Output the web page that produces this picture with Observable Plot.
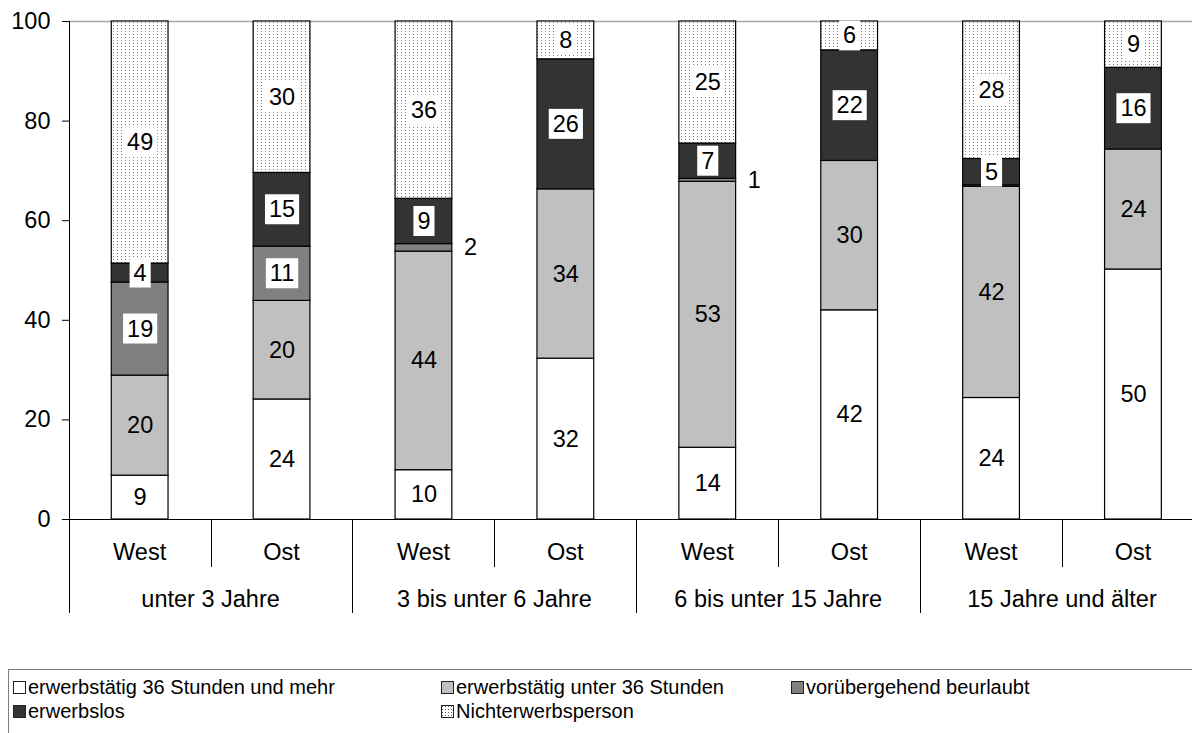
<!DOCTYPE html>
<html><head><meta charset="utf-8">
<script src="https://cdn.jsdelivr.net/npm/d3@7"></script>
<script src="https://cdn.jsdelivr.net/npm/@observablehq/plot@0.6"></script>
<style>
body{margin:0;background:#fff;font-family:"Liberation Sans",Arial,sans-serif;}
#chart{position:absolute;left:0;top:0;}
#legend{position:absolute;left:8px;top:669px;width:1200px;height:80px;border:1px solid #808080;box-sizing:border-box;}
.item{position:absolute;font-size:20px;line-height:24px;display:flex;align-items:center;white-space:nowrap;color:#000;}
.item svg{margin-right:2px;}
</style></head><body>
<div id="chart"></div><div id="legend"></div>
<script>
// ---- data ----
const groups = ["unter 3 Jahre", "3 bis unter 6 Jahre", "6 bis unter 15 Jahre", "15 Jahre und älter"];
const regions = ["West", "Ost"];
const categories = ["erwerbstätig 36 Stunden und mehr", "erwerbstätig unter 36 Stunden", "vorübergehend beurlaubt", "erwerbslos", "Nichterwerbsperson"];
const colors = ["#ffffff", "#c0c0c0", "#808080", "#333333", "url(#dots)"];
// one value per bar: West, Ost for each age group
const vollzeit    = [8.8, 24.1,  9.9, 32.3, 14.4, 42.0, 24.4, 50.2];
const teilzeit    = [20.1, 19.8, 43.9, 34.0, 53.4, 30.0, 42.4, 24.1];
const beurlaubt   = [18.7, 10.9,  1.5,  0.0,  0.6,  0.0,  0.3,  0.0];
const erwerbslos  = [3.8, 14.8,  9.1, 26.1,  7.1, 22.2,  5.3, 16.4];
const nichterwerb = [48.6, 30.4, 35.6,  7.6, 24.5,  5.8, 27.6,  9.3];
const yTicks = [0, 20, 40, 60, 80, 100];

// ---- table ----
const keys = groups.flatMap(g => regions.map(r => g + "|" + r));
const seriesValues = [vollzeit, teilzeit, beurlaubt, erwerbslos, nichterwerb];
const table = [];
keys.forEach((k, i) => seriesValues.forEach((vals, c) =>
  table.push({key: k, cat: categories[c], ci: c, value: vals[i], label: Math.round(vals[i])})));

const FS = 23.5;
const stackOpts = {x: "key", y: "value", z: "cat"};

function groupAxis(index, scales) {
  const x = scales.x, y = scales.y;
  const step = x.step(), bw = x.bandwidth();
  const left = k => x(k) + bw / 2 - step / 2;
  const crisp = v => Math.round(v) + 0.5;
  const y0 = y(0);
  const g = d3.create("svg:g");
  const lines = g.append("g").attr("stroke", "black").attr("stroke-width", 1);
  // y axis line (extends down as first separator)
  lines.append("line").attr("x1", crisp(left(keys[0]))).attr("x2", crisp(left(keys[0])))
    .attr("y1", y(100)).attr("y2", y0 + 94);
  groups.forEach((grp, gi) => {
    const kW = grp + "|West", kO = grp + "|Ost";
    const xe = gi < groups.length - 1 ? left(groups[gi + 1] + "|West") : left(kO) + step;
    lines.append("line").attr("x1", crisp(xe)).attr("x2", crisp(xe)).attr("y1", y0).attr("y2", y0 + 94);
    lines.append("line").attr("x1", crisp(left(kO))).attr("x2", crisp(left(kO))).attr("y1", y0).attr("y2", y0 + 48);
    regions.forEach(r => {
      const k = grp + "|" + r;
      g.append("text").attr("x", x(k) + bw / 2).attr("y", y0 + 33)
        .attr("text-anchor", "middle").attr("dominant-baseline", "central")
        .attr("font-size", FS).attr("fill", "black").text(r);
    });
    g.append("text").attr("x", left(kW) + step).attr("y", y0 + 80)
      .attr("text-anchor", "middle").attr("dominant-baseline", "central")
      .attr("font-size", FS).attr("fill", "black").text(grp);
  });
  return g.node();
}

const svg = Plot.plot({
  width: 1192,
  height: 640,
  marginTop: 21,
  marginBottom: 121,
  marginLeft: 69,
  marginRight: 0,
  style: {fontFamily: '"Liberation Sans", Arial, sans-serif', fontSize: FS + "px", color: "black", background: "white", overflow: "visible"},
  x: {domain: keys, range: [68.7, 68.7 + 8 * 141.9], paddingInner: 0.6, paddingOuter: 0.3, round: false, axis: null},
  y: {domain: [0, 100], ticks: yTicks, tickSize: 7, tickPadding: 12, label: null},
  color: {type: "ordinal", domain: categories, range: colors},
  marks: [
    Plot.ruleY([100], {stroke: "#a8a8a8", strokeWidth: 1.5}),
    Plot.barY(table, Plot.stackY({...stackOpts, fill: "cat", stroke: "black", strokeWidth: 1.2})),
    Plot.ruleY([0], {stroke: "black"}),
    groupAxis,
    Plot.text(table, Plot.stackY({...stackOpts, text: d => (d.ci <= 1 && d.label > 0) ? String(d.label) : "", fill: "black", fontSize: FS})),
    Plot.text(table, Plot.stackY({...stackOpts, ariaDescription: "boxed",
      text: d => (d.ci >= 3 || (d.ci === 2 && d.value >= 3)) ? String(d.label) : "", fill: "black", fontSize: FS})),
    Plot.text(table, Plot.stackY({...stackOpts, text: d => (d.ci === 2 && d.value < 3 && d.label > 0) ? String(d.label) : "",
      fill: "black", fontSize: FS, textAnchor: "start", dx: 40}))
  ]
});

document.getElementById("chart").append(svg);
const NS = "http://www.w3.org/2000/svg";
const defs = document.createElementNS(NS, "defs");
defs.innerHTML = '<pattern id="dots" width="4" height="3" patternUnits="userSpaceOnUse"><rect width="4" height="3" fill="white"/><rect x="1" y="1" width="1" height="1" fill="#7a7a7a"/></pattern>';
svg.insertBefore(defs, svg.firstChild);

let boxedG = svg.querySelector('g[aria-description="boxed"]');
if (!boxedG) boxedG = svg.querySelectorAll('g[aria-label="text"]')[1];
if (boxedG) boxedG.querySelectorAll("text").forEach(t => {
  const bb = t.getBBox();
  if (bb.width === 0) return;
  const r = document.createElementNS(NS, "rect");
  r.setAttribute("x", bb.x - 4);
  r.setAttribute("y", bb.y - 2);
  r.setAttribute("width", bb.width + 8);
  r.setAttribute("height", bb.height + 4);
  r.setAttribute("fill", "white");
  if (t.getAttribute("transform")) r.setAttribute("transform", t.getAttribute("transform"));
  t.parentNode.insertBefore(r, t);
});

// ---- legend ----
const legendPos = [[4, 5], [432, 5], [782, 5], [4, 29], [432, 29]];
const legend = document.getElementById("legend");
categories.forEach((c, i) => {
  const item = document.createElement("div");
  item.className = "item";
  item.style.left = legendPos[i][0] + "px";
  item.style.top = legendPos[i][1] + "px";
  const fill = i === 4 ? "url(#ldots)" : colors[i];
  item.innerHTML = `<svg width="13" height="13"><defs><pattern id="ldots" width="3" height="3" patternUnits="userSpaceOnUse"><rect width="3" height="3" fill="white"/><rect x="1" y="1" width="1" height="1" fill="#666"/></pattern></defs><rect x="0.5" y="0.5" width="12" height="12" fill="${fill}" stroke="#222"/></svg><span></span>`;
  item.querySelector("span").textContent = c;
  legend.append(item);
});
</script>
</body></html>
